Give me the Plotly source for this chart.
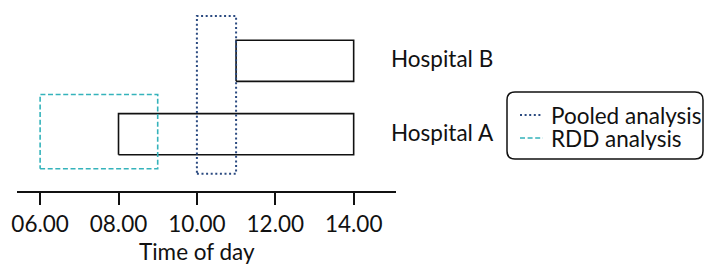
import plotly.graph_objects as go

# ---- data ----
hospitals = ["Hospital A", "Hospital B"]
hosp_y = [0, 1]
hosp_start = [8.0, 11.0]
hosp_end = [14.0, 14.0]
hosp_halfheight = 0.28

analysis_names = ["Pooled analysis", "RDD analysis"]
analysis_x0 = [10.0, 6.0]
analysis_x1 = [11.0, 9.0]
analysis_y0 = [-0.54, -0.47]
analysis_y1 = [1.61, 0.54]

tick_vals = [6, 8, 10, 12, 14]
tick_text = ["06.00", "08.00", "10.00", "12.00", "14.00"]
x_title = "Time of day"

FONT = "Lato, 'Open Sans', sans-serif"
FS = 22.5
INK = "#111111"
analysis_colors = ["#2b4a80", "#35b3bb"]
analysis_dash = ["2px,2.6px", "5px,2.6px"]
analysis_width = [2, 1.6]

# plot area in pixels (for converting legend layout to paper coords)
L, R, T, B = 17, 396, 10, 191
W_PLOT, H_PLOT = R - L, B - T
def px(x):
    return (x - L) / W_PLOT
def py(y):
    return (B - y) / H_PLOT

fig = go.Figure()

def rect(x0, x1, y0, y1):
    return [x0, x1, x1, x0, x0], [y0, y0, y1, y1, y0]

for name, y, s, e in zip(hospitals, hosp_y, hosp_start, hosp_end):
    xs, ys = rect(s, e, y - hosp_halfheight, y + hosp_halfheight)
    fig.add_trace(go.Scatter(x=xs, y=ys, mode="lines", name=name,
                             line=dict(color=INK, width=1.6),
                             showlegend=False, hoverinfo="skip"))

for name, x0, x1, y0, y1, c, d, w in zip(analysis_names, analysis_x0, analysis_x1,
                                         analysis_y0, analysis_y1, analysis_colors,
                                         analysis_dash, analysis_width):
    xs, ys = rect(x0, x1, y0, y1)
    fig.add_trace(go.Scatter(x=xs, y=ys, mode="lines", name=name,
                             line=dict(color=c, width=w, dash=d),
                             showlegend=False, hoverinfo="skip"))

for name, y in zip(hospitals, hosp_y):
    fig.add_annotation(x=px(389), xref="paper", y=y, yref="y", text=name,
                       showarrow=False, xanchor="left", yanchor="middle",
                       yshift=2,
                       font=dict(family=FONT, size=FS, color=INK))

fig.add_annotation(x=10, xref="x", y=py(252), yref="paper", text=x_title,
                   showarrow=False, xanchor="center", yanchor="middle",
                   font=dict(family=FONT, size=FS, color=INK))

# legend (drawn manually): rounded border, line samples, labels
bx0, bx1 = px(507), px(703)
by0, by1 = py(159), py(92)
rx, ry = 8 / W_PLOT, 8 / H_PLOT
path = (f"M{bx0+rx},{by1} L{bx1-rx},{by1} Q{bx1},{by1} {bx1},{by1-ry} "
        f"L{bx1},{by0+ry} Q{bx1},{by0} {bx1-rx},{by0} L{bx0+rx},{by0} "
        f"Q{bx0},{by0} {bx0},{by0+ry} L{bx0},{by1-ry} Q{bx0},{by1} {bx0+rx},{by1} Z")
fig.add_shape(type="path", path=path, xref="paper", yref="paper",
              line=dict(color=INK, width=1.5), fillcolor="rgba(0,0,0,0)")

legend_rows = [115, 138]
for name, c, d, w, ry_px in zip(analysis_names, analysis_colors, analysis_dash,
                                analysis_width, legend_rows):
    fig.add_shape(type="line", xref="paper", yref="paper",
                  x0=px(520), x1=px(543), y0=py(ry_px), y1=py(ry_px),
                  line=dict(color=c, width=w, dash=d))
    fig.add_annotation(x=px(550), xref="paper", y=py(ry_px), yref="paper", text=name,
                       showarrow=False, xanchor="left", yanchor="middle",
                       height=23, valign="middle", borderpad=0,
                       font=dict(family=FONT, size=FS, color=INK))

fig.update_layout(
    width=705, height=264,
    margin=dict(l=L, r=705 - R, t=T, b=264 - B),
    paper_bgcolor="white", plot_bgcolor="white",
    font=dict(family=FONT, size=FS, color=INK),
    showlegend=False,
    xaxis=dict(range=[5.41, 15.08], tickvals=tick_vals, ticktext=tick_text,
               showgrid=False, zeroline=False, showline=True, linecolor=INK,
               linewidth=1.5, ticks="outside", ticklen=12, tickwidth=1.5,
               tickcolor=INK, fixedrange=True,
               tickfont=dict(family=FONT, size=FS, color=INK)),
    yaxis=dict(range=[-0.774, 1.692], showgrid=False, zeroline=False,
               showline=False, showticklabels=False, ticks="", fixedrange=True),
)

fig.write_html("out.html", config={"displayModeBar": False},
               post_script="document.body.style.margin='0';")
